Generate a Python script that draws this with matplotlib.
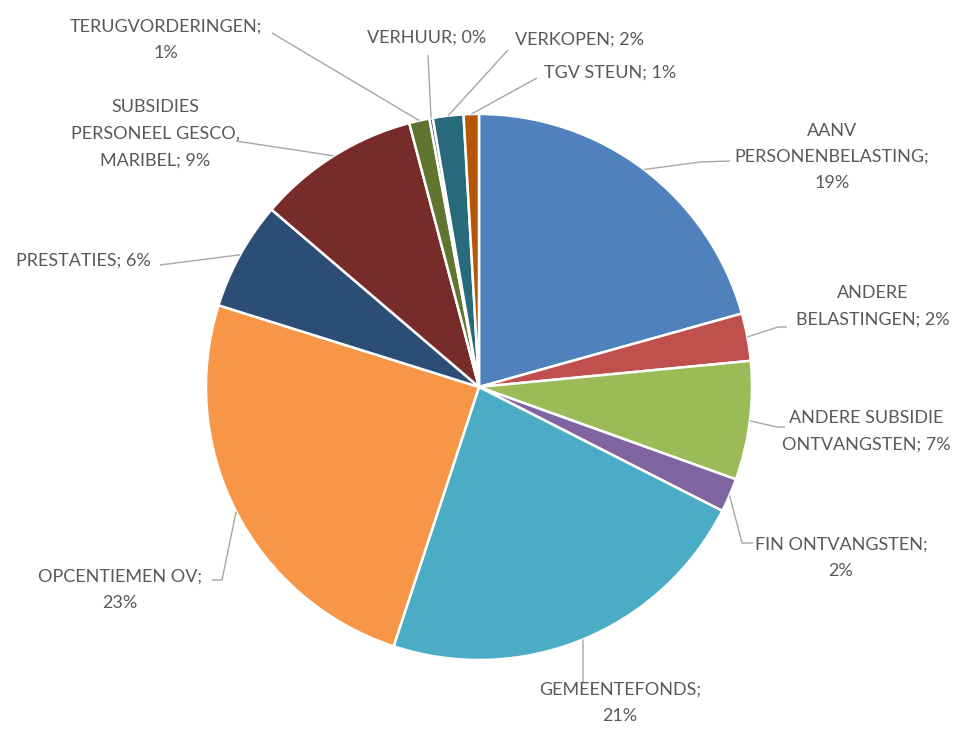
import matplotlib
matplotlib.use("Agg")
import matplotlib.pyplot as plt
import numpy as np

categories = ["AANV PERSONENBELASTING", "ANDERE BELASTINGEN", "ANDERE SUBSIDIE ONTVANGSTEN",
              "FIN ONTVANGSTEN", "GEMEENTEFONDS", "OPCENTIEMEN OV", "PRESTATIES",
              "SUBSIDIES PERSONEEL GESCO, MARIBEL", "TERUGVORDERINGEN", "VERHUUR",
              "VERKOPEN", "TGV STEUN"]
values = [20.6, 2.8, 7.0, 2.0, 22.5, 24.7, 6.4, 9.6, 1.2, 0.2, 1.8, 0.9]
pct_labels = ["19%", "2%", "7%", "2%", "21%", "23%", "6%", "9%", "1%", "0%", "2%", "1%"]
colors = ["#4F81BD", "#C0504D", "#9BBB59", "#8064A2", "#4BACC6", "#F79646",
          "#2C4D75", "#772C2A", "#5F7530", "#4D3B62", "#276A7C", "#B65708"]

W, H = 962, 732
fig = plt.figure(figsize=(W / 100, H / 100), dpi=100)
ax = fig.add_axes([0, 0, 1, 1])
ax.set_xlim(0, W)
ax.set_ylim(0, H)
ax.set_aspect("equal")
ax.axis("off")

cx, cy, R = 479, H - 387, 273
wedges, _ = ax.pie(values, colors=colors, startangle=90, counterclock=False,
                   center=(cx, cy), radius=R, frame=True,
                   wedgeprops=dict(edgecolor="white", linewidth=1.8))
ax.set_xlim(0, W)
ax.set_ylim(0, H)
ax.axis("off")

# label layout: text lines, text center (px), leader path points after anchor (px)
layout = [
    (["AANV", "PERSONENBELASTING;", "19%"], (832, 157), [(700, 162), (730, 161)]),
    (["ANDERE", "BELASTINGEN; 2%"], (873, 306), [(778, 327), (787, 327)]),
    (["ANDERE SUBSIDIE", "ONTVANGSTEN; 7%"], (866, 431), [(777, 427), (785, 427)]),
    (["FIN ONTVANGSTEN;", "2%"], (841, 558), [(742, 543), (753, 543)]),
    (["GEMEENTEFONDS;", "21%"], (620, 703), [(583, 682)]),
    (["OPCENTIEMEN OV;", "23%"], (120, 590), [(222, 580), (212, 580)]),
    (["PRESTATIES; 6%"], (83, 261), [(160, 265)]),
    (["SUBSIDIES", "PERSONEEL GESCO,", "MARIBEL; 9%"], (155, 134), [(236, 141)]),
    (["TERUGVORDERINGEN;", "1%"], (166, 40), [(272, 33)]),
    (["VERHUUR; 0%"], (427, 38), [(428, 55)]),
    (["VERKOPEN; 2%"], (580, 40), [(508, 50)]),
    (["TGV STEUN; 1%"], (610, 73), [(537, 78)]),
]

font = dict(family=["Lato", "DejaVu Sans"], size=13, color="#595959")
line_h = 26.5
for w, (lines, (tx, ty), path) in zip(wedges, layout):
    ang = np.deg2rad((w.theta1 + w.theta2) / 2)
    ax_ = cx + R * np.cos(ang)
    ay_ = cy + R * np.sin(ang)
    xs = [ax_] + [p[0] for p in path]
    ys = [ay_] + [H - p[1] for p in path]
    ax.plot(xs, ys, color="#A6A6A6", linewidth=1.0, solid_capstyle="butt", zorder=1)
    n = len(lines)
    for i, ln in enumerate(lines):
        yy = ty + (i - (n - 1) / 2) * line_h
        ax.text(tx, H - yy, ln, ha="center", va="center", **font)

fig.savefig("out.png", dpi=100, facecolor="white")
